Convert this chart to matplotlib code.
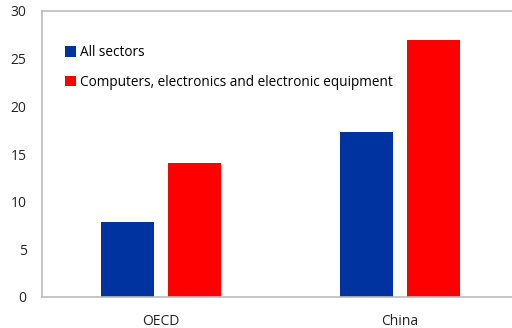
import numpy as np
import matplotlib.pyplot as plt

plt.rcParams['font.family'] = ['Open Sans', 'DejaVu Sans']

# Data
categories = ['OECD', 'China']
all_sectors = [7.9, 17.3]
computers = [14.1, 27.0]
series_names = ['All sectors', 'Computers, electronics and electronic equipment']

fig = plt.figure(figsize=(5.12, 3.28), dpi=100)
ax = fig.add_axes([42 / 512, 31 / 328, 470 / 512, 286 / 328])

x = np.arange(len(categories))
w = 0.222
ax.bar(x - 0.14, all_sectors, w, color='#0033A0', label=series_names[0])
ax.bar(x + 0.14, computers, w, color='#FF0000', label=series_names[1])

ax.set_xlim(-0.5, 1.47)
ax.set_ylim(0, 30)
ax.set_yticks([0, 5, 10, 15, 20, 25, 30])
ax.set_xticks(x)
ax.set_xticklabels(categories)
ax.tick_params(axis='both', length=0, labelsize=10, colors='#222222')
ax.tick_params(axis='y', pad=11)
ax.tick_params(axis='x', pad=12)

for s in ['left', 'bottom', 'top']:
    ax.spines[s].set_color('#BBBBBB')
    ax.spines[s].set_linewidth(1.2)
ax.spines['right'].set_visible(False)

ax.legend(loc='upper left', bbox_to_anchor=(0.038, 0.9), frameon=False,
          fontsize=9.8, handlelength=0.8, handleheight=0.8, handletextpad=0.3,
          labelspacing=1.1, borderaxespad=0)

fig.savefig('out.png', dpi=100)
